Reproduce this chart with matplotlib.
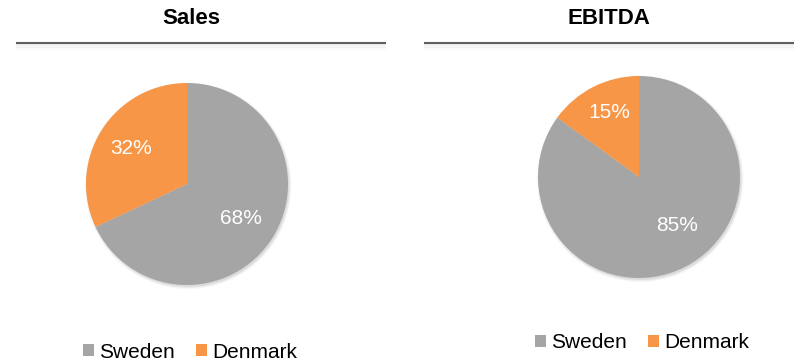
import matplotlib
matplotlib.use("Agg")
import matplotlib.pyplot as plt
from matplotlib.patches import Patch, Circle
from matplotlib.lines import Line2D

plt.rcParams['font.family'] = ['Liberation Sans', 'DejaVu Sans']

countries = ["Sweden", "Denmark"]
sales_share = [68, 32]
ebitda_share = [85, 15]
titles = ["Sales", "EBITDA"]
colors = ["#A5A5A5", "#F79646"]

W, H = 794, 360
fig = plt.figure(figsize=(W / 100, H / 100), dpi=100)
fig.patch.set_facecolor("white")


def px_axes(cx, cy, r):
    """Square axes centred at pixel (cx, cy) from the top-left, radius r."""
    return fig.add_axes([(cx - r) / W, (H - cy - r) / H, 2 * r / W, 2 * r / H])


def draw_pie(values, cx, cy, r, label_pos):
    ax = px_axes(cx, cy, r)
    # soft drop shadow
    for i, a in enumerate([0.05, 0.04, 0.03, 0.02]):
        ax.add_patch(Circle((0.012, -0.018), 1.0 + 0.008 * i, color="black",
                            alpha=a, lw=0, zorder=0))
    wedges, _, autotexts = ax.pie(
        values, colors=colors, startangle=90, counterclock=False,
        autopct=lambda p: f"{p:.0f}%", pctdistance=0.65,
        textprops=dict(color="white", fontsize=15),
        wedgeprops=dict(linewidth=0, zorder=2))
    for t, pos in zip(autotexts, label_pos):
        t.set_position(pos)
        t.set_zorder(3)
    ax.set_xlim(-1.05, 1.05)
    ax.set_ylim(-1.05, 1.05)
    ax.set_aspect("equal")
    ax.axis("off")
    return ax


def header(text, x0, x1, xt):
    fig.text(xt / W, 1 - 18 / H, text, ha="center", va="center",
             fontsize=16, fontweight="bold", color="black")
    # faint shading under the rule
    for k, a in enumerate([0.05, 0.035, 0.025, 0.012]):
        fig.add_artist(Line2D([x0 / W, x1 / W], [1 - (45 + k * 1.5) / H] * 2,
                              color="black", alpha=a, lw=1.5))
    fig.add_artist(Line2D([x0 / W, x1 / W], [1 - 43.3 / H] * 2,
                          color="#5F5F5F", lw=1.5))


def legend(cx, cy):
    handles = [Patch(facecolor=c, edgecolor="none") for c in colors]
    fig.legend(handles, countries, loc="center",
               bbox_to_anchor=(cx / W, 1 - cy / H), ncol=2, frameon=False,
               fontsize=15, handlelength=0.55, handleheight=0.55,
               handletextpad=0.25, columnspacing=1.0, borderpad=0,
               borderaxespad=0)


header(titles[0], 17, 385, 191)
header(titles[1], 425, 793, 609)

draw_pie(sales_share, 187, 184, 101 * 1.05,
         [(0.535, -0.337), (-0.554, 0.347)])
draw_pie(ebitda_share, 639, 177, 101 * 1.05,
         [(0.376, -0.485), (-0.297, 0.634)])

legend(190, 352)
legend(642, 343)

fig.savefig("out.png", dpi=100, facecolor="white")
